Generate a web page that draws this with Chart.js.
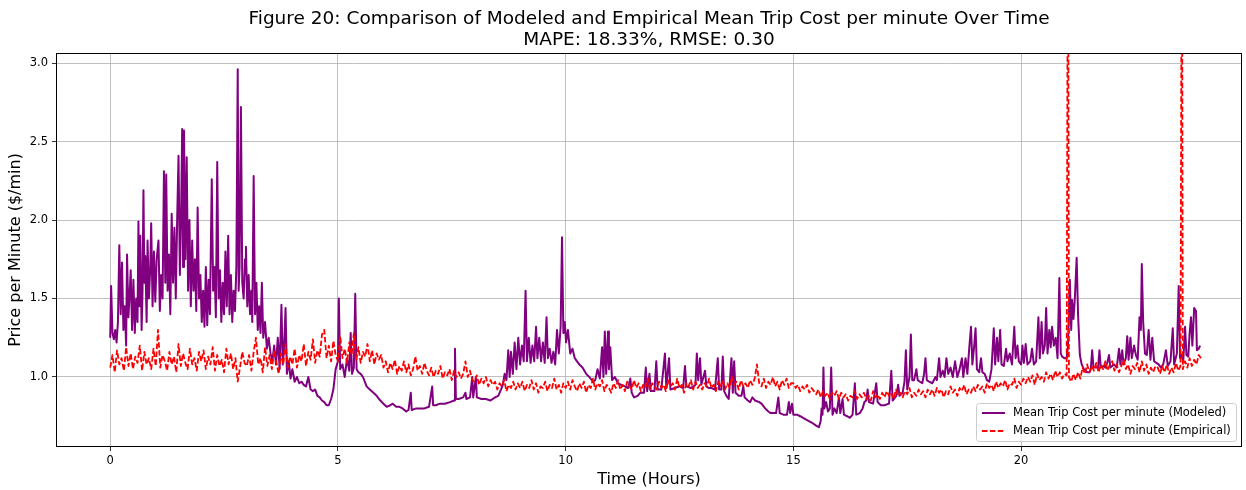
<!DOCTYPE html>
<html lang="en">
<head>
  <meta charset="utf-8"/>
  <title>Figure 20: Modeled vs Empirical Mean Trip Cost per minute</title>
  <script src="https://cdn.jsdelivr.net/npm/chart.js@4.4.1/dist/chart.umd.min.js"></script>
  <style>
    html, body { margin: 0; padding: 0; background: #fff; }
    #wrap { width: 1246px; height: 490px; }
  </style>
</head>
<body>
<div id="wrap"><canvas id="costChart" width="1246" height="490"></canvas></div>
<script>
  // tick labels
  var hourTicks = [0, 5, 10, 15, 20];
  var priceTicks = [1.0, 1.5, 2.0, 2.5, 3.0];

  // modeled series (hours / $ per minute)
  var modeledHours = [
    0.00,0.02,0.05,0.08,0.11,0.14,0.17,0.20,0.23,0.26,
    0.29,0.32,0.35,0.37,0.40,0.43,0.45,0.48,0.51,0.54,
    0.57,0.60,0.62,0.64,0.66,0.69,0.71,0.73,0.75,0.77,
    0.80,0.82,0.85,0.88,0.90,0.93,0.96,0.99,1.02,1.06,
    1.09,1.12,1.15,1.18,1.21,1.23,1.26,1.29,1.32,1.35,
    1.38,1.41,1.44,1.47,1.50,1.53,1.56,1.58,1.60,1.62,
    1.65,1.68,1.71,1.74,1.77,1.80,1.83,1.86,1.89,1.92,
    1.95,1.98,2.01,2.04,2.07,2.10,2.13,2.16,2.19,2.23,
    2.26,2.29,2.32,2.35,2.38,2.41,2.44,2.47,2.50,2.53,
    2.56,2.59,2.62,2.65,2.68,2.71,2.74,2.77,2.80,2.82,
    2.84,2.87,2.90,2.93,2.96,2.98,3.01,3.04,3.07,3.10,
    3.12,3.15,3.18,3.21,3.24,3.27,3.30,3.33,3.36,3.40,
    3.44,3.48,3.52,3.56,3.60,3.64,3.68,3.72,3.76,3.79,
    3.82,3.85,3.88,3.92,3.96,4.00,4.05,4.10,4.15,4.20,
    4.25,4.30,4.35,4.40,4.45,4.50,4.55,4.60,4.65,4.70,
    4.75,4.80,4.85,4.90,4.95,5.00,5.02,5.05,5.10,5.15,
    5.20,5.25,5.28,5.31,5.35,5.38,5.41,5.45,5.50,5.55,
    5.63,5.70,5.78,5.85,5.93,6.00,6.07,6.15,6.20,6.28,
    6.35,6.42,6.50,6.55,6.60,6.62,6.72,6.80,6.90,7.00,
    7.07,7.09,7.15,7.24,7.35,7.46,7.55,7.57,7.59,7.65,
    7.75,7.80,7.82,7.90,7.95,7.97,8.03,8.05,8.15,8.25,
    8.35,8.45,8.52,8.58,8.62,8.66,8.70,8.74,8.77,8.80,
    8.84,8.88,8.92,8.96,9.00,9.04,9.08,9.12,9.15,9.19,
    9.23,9.27,9.31,9.35,9.38,9.42,9.46,9.50,9.54,9.58,
    9.61,9.65,9.69,9.73,9.77,9.81,9.85,9.89,9.92,9.95,
    9.98,10.01,10.05,10.10,10.15,10.20,10.25,10.30,10.37,10.45,
    10.52,10.60,10.65,10.70,10.75,10.80,10.83,10.86,10.89,10.93,
    10.95,10.98,11.02,11.08,11.15,11.22,11.30,11.37,11.42,11.45,
    11.50,11.58,11.64,11.72,11.76,11.79,11.84,11.87,11.95,11.99,
    12.02,12.10,12.18,12.21,12.27,12.30,12.40,12.50,12.58,12.62,
    12.65,12.75,12.85,12.88,12.91,12.95,12.98,13.06,13.09,13.14,
    13.20,13.28,13.34,13.37,13.42,13.45,13.48,13.53,13.58,13.64,
    13.67,13.70,13.73,13.80,13.86,13.90,13.93,14.00,14.05,14.10,
    14.16,14.25,14.30,14.38,14.45,14.50,14.56,14.62,14.67,14.70,
    14.78,14.86,14.90,14.93,14.97,15.00,15.08,15.15,15.27,15.40,
    15.50,15.56,15.60,15.62,15.64,15.66,15.68,15.72,15.76,15.80,
    15.83,15.86,15.90,15.95,16.00,16.03,16.08,16.11,16.18,16.24,
    16.30,16.35,16.38,16.46,16.52,16.56,16.60,16.63,16.66,16.75,
    16.82,16.85,16.92,17.00,17.10,17.15,17.18,17.26,17.30,17.33,
    17.40,17.44,17.47,17.50,17.55,17.58,17.61,17.65,17.70,17.73,
    17.78,17.83,17.87,17.90,17.93,17.98,18.05,18.12,18.15,18.20,
    18.23,18.28,18.32,18.36,18.40,18.45,18.50,18.55,18.60,18.65,
    18.70,18.73,18.78,18.82,18.86,18.90,18.93,18.97,19.00,19.03,
    19.08,19.12,19.15,19.20,19.25,19.30,19.35,19.40,19.43,19.47,
    19.50,19.54,19.57,19.62,19.67,19.70,19.75,19.80,19.85,19.88,
    19.92,19.95,20.00,20.03,20.06,20.10,20.14,20.20,20.24,20.28,
    20.33,20.38,20.41,20.45,20.48,20.52,20.55,20.58,20.62,20.65,
    20.68,20.72,20.76,20.80,20.84,20.87,20.90,20.95,21.00,21.03,
    21.07,21.10,21.12,21.15,21.18,21.22,21.25,21.29,21.33,21.38,
    21.45,21.50,21.53,21.56,21.59,21.65,21.69,21.72,21.75,21.80,
    21.85,21.90,21.93,21.96,22.04,22.10,22.15,22.18,22.22,22.25,
    22.30,22.33,22.36,22.40,22.43,22.48,22.52,22.56,22.60,22.63,
    22.65,22.68,22.72,22.76,22.80,22.84,22.88,22.92,22.97,23.02,
    23.07,23.12,23.18,23.22,23.28,23.33,23.36,23.42,23.46,23.49,
    23.52,23.56,23.60,23.63,23.67,23.70,23.73,23.76,23.80,23.84,
    23.86,23.90,23.93
  ];
  var modeledCost = [
    1.25,1.58,1.28,1.24,1.30,1.22,1.35,1.84,1.40,1.73,
    1.30,1.45,1.20,1.78,1.38,1.55,1.68,1.30,1.62,1.28,
    1.50,1.35,1.99,1.45,1.90,1.30,1.55,2.19,1.60,1.77,
    1.35,1.87,1.50,1.70,1.98,1.45,1.80,1.48,1.75,1.87,
    1.42,1.65,1.50,2.31,1.60,2.29,1.55,1.78,1.40,2.04,
    1.60,1.95,1.50,2.00,2.41,1.65,2.10,2.58,1.70,2.57,
    1.75,2.40,1.55,2.00,1.45,1.87,1.55,1.75,1.42,2.08,
    1.50,1.65,1.35,1.55,1.32,1.70,1.33,1.62,1.40,2.26,
    1.55,1.70,1.38,2.37,1.50,1.68,1.35,1.60,1.40,1.80,
    1.45,1.90,1.40,1.65,1.35,1.55,1.42,1.70,2.96,1.55,
    1.70,2.72,1.60,1.50,1.75,1.83,1.45,1.65,1.40,1.55,
    1.35,2.28,1.40,1.60,1.30,1.45,1.28,1.60,1.25,1.35,
    1.18,1.25,1.15,1.10,1.20,1.08,1.25,1.05,1.46,1.08,
    1.20,1.44,1.02,1.10,0.99,1.05,0.97,1.00,0.96,0.97,
    0.95,0.94,1.00,0.92,0.91,0.92,0.88,0.87,0.85,0.84,
    0.82,0.82,0.86,0.92,1.05,1.10,1.50,1.05,1.08,1.00,
    1.12,1.04,1.28,1.02,1.06,1.53,1.05,1.03,1.02,1.00,
    0.94,0.92,0.90,0.88,0.85,0.83,0.81,0.82,0.83,0.81,
    0.81,0.80,0.78,0.79,0.90,0.79,0.80,0.80,0.80,0.81,
    0.94,0.82,0.82,0.83,0.83,0.84,0.85,1.18,0.86,0.86,
    0.87,0.90,0.86,0.87,1.00,0.87,1.00,0.87,0.86,0.86,
    0.85,0.87,0.88,0.92,0.95,1.02,0.98,1.17,1.00,1.16,
    1.02,1.22,1.05,1.25,1.08,1.20,1.10,1.55,1.10,1.25,
    1.09,1.20,1.10,1.32,1.12,1.25,1.10,1.22,1.09,1.38,
    1.12,1.18,1.09,1.16,1.08,1.30,1.15,1.32,1.89,1.28,
    1.35,1.22,1.30,1.15,1.18,1.12,1.10,1.08,1.06,1.02,
    1.00,0.97,0.98,1.05,0.99,1.19,1.00,1.29,1.02,1.29,
    1.05,1.19,0.98,1.00,0.96,0.95,0.94,0.93,0.99,0.90,
    0.87,0.88,0.90,0.90,1.06,0.91,1.02,0.91,0.91,1.10,
    0.92,0.92,1.15,0.93,1.12,0.92,0.93,0.94,0.93,1.07,
    0.94,0.93,0.95,1.15,0.98,1.12,0.95,1.04,0.94,0.93,
    0.93,0.92,1.12,0.92,0.92,1.13,0.91,0.88,0.86,1.12,
    0.90,1.10,0.90,0.88,0.88,0.94,0.87,0.85,0.84,0.87,
    0.85,0.84,0.83,0.80,0.78,0.77,0.77,0.77,0.87,0.77,
    0.76,0.76,0.84,0.77,0.83,0.76,0.76,0.75,0.73,0.71,
    0.69,0.68,0.72,0.80,0.76,1.06,0.80,0.84,0.78,0.80,
    1.06,0.76,0.80,0.77,0.87,0.77,0.86,0.76,0.75,0.74,
    0.76,0.96,0.76,0.77,0.80,0.84,0.85,0.92,0.84,0.83,
    0.96,0.84,0.82,0.82,0.83,1.04,0.85,0.88,0.95,0.88,
    0.90,0.97,1.17,0.92,1.00,1.27,0.98,0.98,1.05,0.98,
    0.97,0.96,1.02,1.12,0.98,0.97,0.96,1.00,0.98,1.12,
    1.00,1.04,1.00,1.12,1.02,1.06,1.00,1.10,1.00,1.05,
    1.12,1.00,1.12,1.02,1.18,1.32,1.08,1.20,1.31,1.05,
    1.03,1.12,1.03,1.02,0.98,0.97,1.05,1.31,1.08,1.25,
    1.10,1.30,1.08,1.07,1.18,1.10,1.15,1.08,1.32,1.12,
    1.20,1.10,1.08,1.20,1.09,1.21,1.08,1.10,1.18,1.08,
    1.10,1.38,1.12,1.35,1.15,1.20,1.44,1.15,1.30,1.19,
    1.32,1.20,1.25,1.12,1.63,1.15,1.13,1.12,1.12,1.20,
    1.62,1.30,1.49,1.37,1.50,1.76,1.40,1.14,1.08,1.05,
    1.03,1.03,1.05,1.17,1.06,1.06,1.06,1.17,1.06,1.07,
    1.06,1.10,1.14,1.06,1.08,1.06,1.18,1.08,1.17,1.08,
    1.12,1.26,1.11,1.25,1.12,1.20,1.14,1.11,1.38,1.30,
    1.72,1.35,1.15,1.14,1.30,1.11,1.25,1.10,1.09,1.08,
    1.06,1.08,1.17,1.07,1.10,1.31,1.08,1.15,1.58,1.12,
    1.14,1.10,1.32,1.14,1.13,1.28,1.38,1.20,1.44,1.42,
    1.17,1.18,1.20
  ];

  // empirical series, one row per hour (every 3 minutes)
  var empiricalHours = [
    0.00,0.05,0.10,0.15,0.20,0.25,0.30,0.35,0.40,0.45,0.50,0.55,0.60,0.65,0.70,0.75,0.80,0.85,0.90,0.95,
    1.00,1.05,1.10,1.15,1.20,1.25,1.30,1.35,1.40,1.45,1.50,1.55,1.60,1.65,1.70,1.75,1.80,1.85,1.90,1.95,
    2.00,2.05,2.10,2.15,2.20,2.25,2.30,2.35,2.40,2.45,2.50,2.55,2.60,2.65,2.70,2.75,2.80,2.85,2.90,2.95,
    3.00,3.05,3.10,3.15,3.20,3.25,3.30,3.35,3.40,3.45,3.50,3.55,3.60,3.65,3.70,3.75,3.80,3.85,3.90,3.95,
    4.00,4.05,4.10,4.15,4.20,4.25,4.30,4.35,4.40,4.45,4.50,4.55,4.60,4.65,4.70,4.75,4.80,4.85,4.90,4.95,
    5.00,5.05,5.10,5.15,5.20,5.25,5.30,5.35,5.40,5.45,5.50,5.55,5.60,5.65,5.70,5.75,5.80,5.85,5.90,5.95,
    6.00,6.05,6.10,6.15,6.20,6.25,6.30,6.35,6.40,6.45,6.50,6.55,6.60,6.65,6.70,6.75,6.80,6.85,6.90,6.95,
    7.00,7.05,7.10,7.15,7.20,7.25,7.30,7.35,7.40,7.45,7.50,7.55,7.60,7.65,7.70,7.75,7.80,7.85,7.90,7.95,
    8.00,8.05,8.10,8.15,8.20,8.25,8.30,8.35,8.40,8.45,8.50,8.55,8.60,8.65,8.70,8.75,8.80,8.85,8.90,8.95,
    9.00,9.05,9.10,9.15,9.20,9.25,9.30,9.35,9.40,9.45,9.50,9.55,9.60,9.65,9.70,9.75,9.80,9.85,9.90,9.95,
    10.00,10.05,10.10,10.15,10.20,10.25,10.30,10.35,10.40,10.45,10.50,10.55,10.60,10.65,10.70,10.75,10.80,10.85,10.90,10.95,
    11.00,11.05,11.10,11.15,11.20,11.25,11.30,11.35,11.40,11.45,11.50,11.55,11.60,11.65,11.70,11.75,11.80,11.85,11.90,11.95,
    12.00,12.05,12.10,12.15,12.20,12.25,12.30,12.35,12.40,12.45,12.50,12.55,12.60,12.65,12.70,12.75,12.80,12.85,12.90,12.95,
    13.00,13.05,13.10,13.15,13.20,13.25,13.30,13.35,13.40,13.45,13.50,13.55,13.60,13.65,13.70,13.75,13.80,13.85,13.90,13.95,
    14.00,14.05,14.10,14.15,14.20,14.25,14.30,14.35,14.40,14.45,14.50,14.55,14.60,14.65,14.70,14.75,14.80,14.85,14.90,14.95,
    15.00,15.05,15.10,15.15,15.20,15.25,15.30,15.35,15.40,15.45,15.50,15.55,15.60,15.65,15.70,15.75,15.80,15.85,15.90,15.95,
    16.00,16.05,16.10,16.15,16.20,16.25,16.30,16.35,16.40,16.45,16.50,16.55,16.60,16.65,16.70,16.75,16.80,16.85,16.90,16.95,
    17.00,17.05,17.10,17.15,17.20,17.25,17.30,17.35,17.40,17.45,17.50,17.55,17.60,17.65,17.70,17.75,17.80,17.85,17.90,17.95,
    18.00,18.05,18.10,18.15,18.20,18.25,18.30,18.35,18.40,18.45,18.50,18.55,18.60,18.65,18.70,18.75,18.80,18.85,18.90,18.95,
    19.00,19.05,19.10,19.15,19.20,19.25,19.30,19.35,19.40,19.45,19.50,19.55,19.60,19.65,19.70,19.75,19.80,19.85,19.90,19.95,
    20.00,20.05,20.10,20.15,20.20,20.25,20.30,20.35,20.40,20.45,20.50,20.55,20.60,20.65,20.70,20.75,20.80,20.85,20.90,20.95,
    21.00,21.03,21.05,21.10,21.15,21.20,21.25,21.30,21.35,21.40,21.45,21.50,21.55,21.60,21.65,21.70,21.75,21.80,21.85,21.90,21.95,
    22.00,22.05,22.10,22.15,22.20,22.25,22.30,22.35,22.40,22.45,22.50,22.55,22.60,22.65,22.70,22.75,22.80,22.85,22.90,22.95,
    23.00,23.05,23.10,23.15,23.20,23.25,23.30,23.35,23.40,23.45,23.50,23.53,23.55,23.60,23.65,23.70,23.75,23.80,23.85,23.90,23.95
  ];
  var empiricalCost = [
    1.06,1.14,1.03,1.17,1.08,1.12,1.04,1.19,1.07,1.15,1.05,1.13,1.09,1.20,1.04,1.16,1.08,1.12,1.05,1.18,
    1.07,1.30,1.06,1.14,1.10,1.04,1.16,1.08,1.13,1.03,1.21,1.07,1.15,1.09,1.05,1.18,1.08,1.12,1.04,1.16,
    1.10,1.17,1.05,1.13,1.08,1.19,1.04,1.14,1.07,1.11,1.03,1.18,1.08,1.15,1.05,1.12,0.97,1.06,1.16,1.09,
    1.07,1.14,1.04,1.16,1.25,1.08,1.12,1.03,1.19,1.07,1.14,1.05,1.17,1.09,1.02,1.15,1.08,1.21,1.06,1.13,
    1.08,1.18,1.06,1.14,1.10,1.21,1.07,1.16,1.11,1.24,1.09,1.17,1.13,1.27,1.30,1.12,1.20,1.10,1.23,1.14,
    1.10,1.26,1.12,1.18,1.09,1.22,1.14,1.28,1.11,1.19,1.09,1.16,1.13,1.21,1.10,1.17,1.08,1.15,1.11,1.14,
    1.06,1.10,1.03,1.09,1.05,1.11,1.02,1.07,1.04,1.10,1.03,1.08,1.01,1.05,1.13,1.04,1.07,1.02,1.09,1.04,
    1.01,1.06,1.00,1.04,1.02,1.07,0.99,1.03,1.01,1.05,0.98,1.04,1.00,1.03,0.99,1.02,1.10,1.00,1.04,0.98,
    0.97,1.01,0.95,0.99,0.96,1.00,0.94,0.98,0.95,0.97,0.92,0.96,0.94,0.98,0.91,0.95,0.93,0.97,0.92,0.96,
    0.93,0.97,0.91,0.95,0.93,0.98,0.92,0.96,0.90,0.94,0.93,0.97,0.91,0.95,0.93,0.99,0.92,0.95,0.90,0.96,
    0.93,0.97,0.92,0.98,0.94,0.91,0.96,0.93,0.97,0.90,0.95,0.93,0.99,0.92,0.96,0.94,0.98,0.91,0.95,0.93,
    0.90,0.96,0.93,0.98,0.92,0.95,0.91,0.97,0.94,0.92,0.98,0.93,0.96,0.91,0.95,0.93,0.99,0.92,0.96,0.94,
    0.92,0.97,0.93,0.95,0.91,0.98,0.94,0.96,0.92,0.99,0.93,0.95,0.90,0.96,0.94,0.98,0.92,0.97,0.93,0.95,
    0.92,0.96,0.94,0.99,0.93,0.95,0.91,0.97,0.94,0.98,0.92,0.96,0.93,1.00,0.95,0.97,0.92,0.98,0.94,0.96,
    0.93,0.98,0.95,0.99,1.08,0.96,0.94,0.99,0.93,0.97,0.95,1.00,0.94,0.97,0.92,0.98,0.95,0.99,0.93,0.96,
    0.96,0.93,0.95,0.91,0.94,0.92,0.95,0.90,0.93,0.91,0.89,0.92,0.87,0.91,0.88,0.90,0.86,0.90,0.88,0.91,
    0.86,0.90,0.87,0.89,0.85,0.88,0.87,0.91,0.86,0.89,0.87,0.90,0.86,0.88,0.85,0.91,0.87,0.89,0.86,0.90,
    0.87,0.91,0.88,0.90,0.86,0.92,0.88,0.90,0.87,0.91,0.89,0.93,0.87,0.90,0.88,0.92,0.89,0.91,0.87,0.92,
    0.89,0.92,0.88,0.93,0.90,0.92,0.87,0.91,0.89,0.94,0.90,0.92,0.88,0.93,0.91,0.95,0.89,0.92,0.90,0.94,
    0.91,0.95,0.92,0.94,0.90,0.96,0.93,0.95,0.91,0.97,0.93,0.96,0.94,0.98,0.92,0.96,0.95,0.99,0.93,0.97,
    0.95,0.99,0.96,1.00,0.97,1.01,0.95,1.02,0.98,1.00,0.97,1.03,0.99,1.02,0.98,1.04,1.00,1.03,0.99,1.02,
    1.01,4.50,1.00,0.97,1.02,0.98,1.03,0.99,1.06,1.02,1.08,1.03,1.07,1.04,1.09,1.03,1.08,1.05,1.10,1.04,1.08,
    1.10,1.04,1.08,1.03,1.07,1.11,1.05,1.08,1.02,1.07,1.05,1.09,1.03,1.10,1.04,1.08,1.02,1.06,1.03,1.07,
    1.06,1.02,1.07,1.03,1.08,1.02,1.06,1.03,1.09,1.04,1.07,4.50,1.05,1.10,1.06,1.12,1.07,1.11,1.08,1.14,1.12
  ];

  var seriesLabels = ['Mean Trip Cost per minute (Modeled)', 'Mean Trip Cost per minute (Empirical)'];

  var FONT = "'DejaVu Sans', 'Liberation Sans', sans-serif";

  function toPoints(xs, ys) {
    var pts = [];
    for (var i = 0; i < xs.length; i++) pts.push({x: xs[i], y: ys[i]});
    return pts;
  }

  // axes box + legend box in the lower right corner of the plot
  var frameAndLegend = {
    id: 'frameAndLegend',
    afterDraw: function(chart) {
      var ctx = chart.ctx, a = chart.chartArea;
      ctx.save();
      ctx.strokeStyle = '#000';
      ctx.lineWidth = 1;
      ctx.strokeRect(Math.round(a.left) + 0.5, Math.round(a.top) + 0.5,
                     Math.round(a.right - a.left) - 1, Math.round(a.bottom - a.top) - 1);

      var lx = 976.5, ly = 403.5, lw = 260, lh = 38;
      ctx.beginPath();
      ctx.roundRect(lx, ly, lw, lh, 3);
      ctx.fillStyle = 'rgba(255,255,255,0.8)';
      ctx.fill();
      ctx.strokeStyle = '#cccccc';
      ctx.stroke();

      var ds = chart.data.datasets;
      var rows = [413, 431];
      ctx.font = '11.5px ' + FONT;
      ctx.textBaseline = 'middle';
      ctx.textAlign = 'left';
      for (var i = 0; i < ds.length; i++) {
        ctx.beginPath();
        ctx.strokeStyle = ds[i].borderColor;
        ctx.lineWidth = ds[i].borderWidth;
        ctx.setLineDash(ds[i].borderDash || []);
        ctx.moveTo(982, rows[i]);
        ctx.lineTo(1005, rows[i]);
        ctx.stroke();
        ctx.setLineDash([]);
        ctx.fillStyle = '#000';
        ctx.fillText(ds[i].label, 1013, rows[i] + 0.5);
      }
      ctx.restore();
    }
  };

  new Chart(document.getElementById('costChart'), {
    type: 'line',
    data: {
      datasets: [{
        label: seriesLabels[0],
        data: toPoints(modeledHours, modeledCost),
        borderColor: '#800080',
        borderWidth: 2,
        borderJoinStyle: 'round',
        pointRadius: 0,
        tension: 0,
        order: 1
      }, {
        label: seriesLabels[1],
        data: toPoints(empiricalHours, empiricalCost),
        borderColor: '#ff0000',
        borderWidth: 1.8,
        borderDash: [5.5, 2.4],
        borderJoinStyle: 'round',
        pointRadius: 0,
        tension: 0,
        order: 0
      }]
    },
    options: {
      responsive: false,
      devicePixelRatio: 1,
      animation: false,
      layout: { padding: { top: 0, right: 4, bottom: 0, left: 0 } },
      plugins: {
        legend: { display: false },
        tooltip: { enabled: false },
        title: {
          display: true,
          fullSize: false,
          text: ['Figure 20: Comparison of Modeled and Empirical Mean Trip Cost per minute Over Time',
                 'MAPE: 18.33%, RMSE: 0.30'],
          color: '#000',
          font: { family: FONT, size: 18.5, weight: 'normal', lineHeight: 1.1 },
          padding: { top: 9.5, bottom: 2.8 }
        }
      },
      scales: {
        x: {
          type: 'linear',
          min: -1.19,
          max: 24.85,
          afterBuildTicks: function(s) { s.ticks = hourTicks.map(function(v) { return {value: v}; }); },
          afterFit: function(s) { s.height = 43; },
          border: { display: false },
          grid: { color: '#b0b0b0', lineWidth: 0.8, tickColor: '#000', tickLength: 4 },
          ticks: {
            color: '#000', padding: 3, maxRotation: 0, autoSkip: false,
            font: { family: FONT, size: 11.5 },
            callback: function(v) { return String(v); }
          },
          title: {
            display: true, text: 'Time (Hours)', color: '#000',
            font: { family: FONT, size: 16 },
            padding: { top: 0, bottom: 1 }
          }
        },
        y: {
          type: 'linear',
          min: 0.554,
          max: 3.064,
          afterBuildTicks: function(s) { s.ticks = priceTicks.map(function(v) { return {value: v}; }); },
          afterFit: function(s) { s.width = 56; },
          border: { display: false },
          grid: { color: '#b0b0b0', lineWidth: 0.8, tickColor: '#000', tickLength: 4 },
          ticks: {
            color: '#000', padding: 4,
            font: { family: FONT, size: 11.5 },
            callback: function(v) { return v.toFixed(1); }
          },
          title: {
            display: true, text: 'Price per Minute ($/min)', color: '#000',
            font: { family: FONT, size: 16 },
            padding: { top: 6, bottom: 0 }
          }
        }
      }
    },
    plugins: [frameAndLegend]
  });
</script>
</body>
</html>
